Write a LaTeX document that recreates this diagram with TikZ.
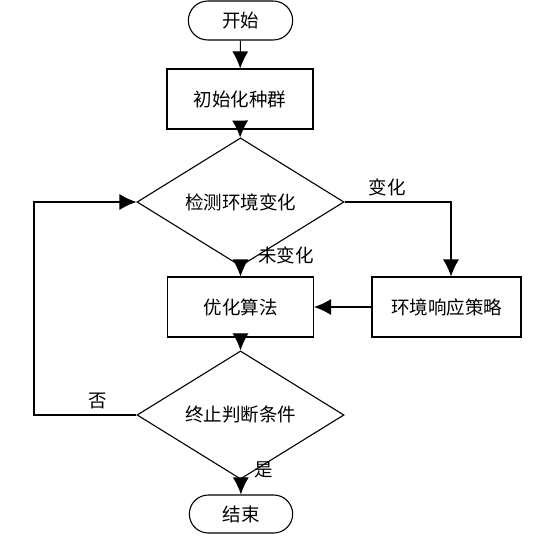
\documentclass[tikz,border=0pt]{standalone}
\usepackage{fontspec}
\setmainfont{Noto Sans CJK SC}
\usetikzlibrary{arrows.meta}
\usetikzlibrary{shapes}
\newcommand{\txtsize}{\fontsize{18.5pt}{22pt}\selectfont}
\tikzset{
  term/.style={draw,rounded rectangle,minimum width=111pt,minimum height=39pt},
  proc/.style={draw,rectangle,minimum width=146pt,minimum height=60pt},
  cond/.style={draw,diamond,inner sep=0pt,minimum width=207pt,minimum height=88pt},
  flow/.style={-{Latex[length=17pt,width=16pt]}},
}

\begin{document}
\begin{tikzpicture}[x=1pt,y=-1pt,line width=1.1pt,font=\txtsize]
    \useasboundingbox (0,0) rectangle (557,536);

    % Main column
    \node[term] (start) at (240.5,20.5) {开始};
    \node[proc] (init) at (240,99) {初始化种群};
    \node[cond] (detect) at (240.5,202) {检测环境变化};
    \node[proc] (opt) at (240.5,307) {优化算法};
    \node[proc,minimum width=149pt] (resp) at (446.5,307) {环境响应策略};
    \node[cond] (stop) at (240.5,415) {终止判断条件};
    \node[term,minimum width=110pt,minimum height=38pt] (end) at (241,514) {结束};

    % Turning points
    \coordinate (R1) at (451,202);
    \coordinate (L1) at (34,415);
    \coordinate (L2) at (34,202);

    \draw[flow] (start) -- (init);
    \draw[flow] (init) -- (detect);
    \draw[flow] (detect) -- (opt);
    \draw[flow] (detect.east) -- (R1) -- (R1 |- resp.north);
    \draw[flow] (resp) -- (opt);
    \draw[flow] (opt) -- (stop);
    \draw[flow] (stop) -- (end);
    \draw[flow] (stop.west) -- (L1) -- (L2) -- (detect.west);

    % Branch labels
    \path
      (387,187) node (lchg) {变化}
      (286,255) node (lnochg) {未变化}
      (264,470) node (lyes) {是}
      (98,401) node (lno) {否};

\end{tikzpicture}
\end{document}
